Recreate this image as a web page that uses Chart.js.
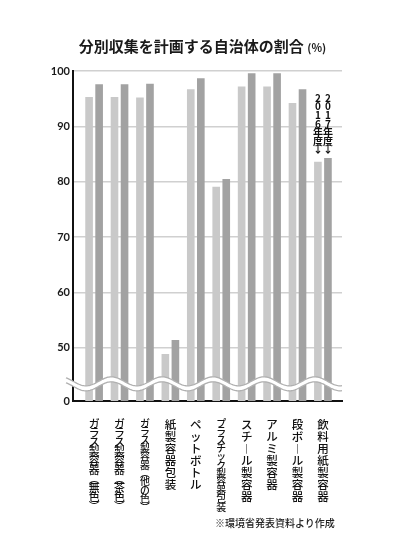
<!DOCTYPE html>
<html>
<head>
<meta charset="utf-8">
<script src="https://cdn.jsdelivr.net/npm/chart.js@4/dist/chart.umd.min.js"></script>
<style>
html, body { margin: 0; padding: 0; background: #fff; }
#wrap { position: relative; width: 400px; height: 550px; }
#title { position: absolute; left: 0; width: 405px; top: 35px; line-height: 20px; text-align: center;
         font: bold 15px 'Noto Sans CJK JP'; color: #1a1a1a; }
#title small { font-size: 11px; font-weight: bold; }
#note { position: absolute; left: 215px; top: 515px; line-height: 12px; font: 500 10px 'Noto Sans CJK JP'; color: #222; }
</style>
</head>
<body>
<div id="wrap">
  <canvas id="chart" width="400" height="550" style="width:400px;height:550px"></canvas>
  <div id="title">分別収集を計画する自治体の割合 <small>(%)</small></div>
  <div id="note">※環境省発表資料より作成</div>
</div>
<script>
var categories = ['ガラス製容器（無色）', 'ガラス製容器（茶色）', 'ガラス製容器（他の色）', '紙製容器包装',
    'ペットボトル', 'プラスチック製容器包装', 'スチール製容器', 'アルミ製容器', '段ボール製容器', '飲料用紙製容器'];
var years = ['2016年度', '2017年度'];
var values2016 = [95.3, 95.3, 95.2, 48.9, 96.7, 79.1, 97.2, 97.2, 94.2, 83.6];
var values2017 = [97.6, 97.6, 97.7, 51.4, 98.7, 80.5, 99.6, 99.6, 96.7, 84.3];
var yTickValues = [50, 60, 70, 80, 90, 100];
var yBreakValue = 40.4;   // bottom of the cut axis, labelled as 0
var yBreakLabel = '0';

// vertical writing: one glyph per line, brackets and long vowel turned
function verticalize(text) {
    var turn = { '（': '︵', '）': '︶', 'ー': '︱' };
    return Array.from(text || '').map(function (c) { return turn[c] || c; });
}

function labelLineHeight(i) {
    var n = categories[i] ? Array.from(categories[i]).length : 0;
    return n ? Math.min(11.9, 92 / n) : 11.9;
}

// the year notes above the last pair of bars
var yearNotes = {
    id: 'yearNotes',
    afterDatasetsDraw: function (chart) {
        var ctx = chart.ctx;
        var last = categories.length - 1;
        var bars = [0, 1].map(function (d) { return chart.getDatasetMeta(d).data[last]; });
        var top = Math.min(bars[0].y, bars[1].y);
        var step = 8.6;
        ctx.save();
        ctx.fillStyle = '#111';
        ctx.font = 'bold 10px "Noto Sans CJK JP"';
        ctx.textAlign = 'center';
        ctx.textBaseline = 'middle';
        bars.forEach(function (bar, d) {
            var chars = Array.from(years[d]).concat('↓');
            var y = top - 4 - chars.length * step + step / 2;
            chars.forEach(function (c, k) {
                ctx.fillText(c, bar.x, y + k * step);
            });
        });
        ctx.restore();
    }
};

// wavy white band that marks the cut in the value axis
var breakWave = {
    id: 'breakWave',
    afterDraw: function (chart) {
        var ctx = chart.ctx, xs = chart.scales.x, ys = chart.scales.y;
        var cy = ys.getPixelForValue(43.5);
        var period = xs.getPixelForValue(2) - xs.getPixelForValue(0);
        var peakX = xs.getPixelForValue(0.68);
        var x0 = chart.chartArea.left - 7, x1 = chart.chartArea.right;
        var amp = 4.5, gap = 5;
        function yAt(x, off) {
            return cy + off - amp * Math.cos(2 * Math.PI * (x - peakX) / period);
        }
        ctx.save();
        ctx.beginPath();
        for (var x = x0; x <= x1; x++) ctx.lineTo(x, yAt(x, -gap / 2));
        for (x = x1; x >= x0; x--) ctx.lineTo(x, yAt(x, gap / 2));
        ctx.closePath();
        ctx.fillStyle = '#fff';
        ctx.fill();
        ctx.strokeStyle = '#b0b0b0';
        ctx.lineWidth = 1.3;
        [-gap / 2, gap / 2].forEach(function (off) {
            ctx.beginPath();
            for (var x = x0; x <= x1; x++) ctx.lineTo(x, yAt(x, off));
            ctx.stroke();
        });
        ctx.restore();
    }
};

var ctx = document.getElementById('chart').getContext('2d');
var chart = new Chart(ctx, {
    type: 'bar',
    data: {
        datasets: [{
            label: years[0],
            backgroundColor: '#c9c9c9',
            data: values2016.map(function (v, i) { return { x: i, y: v }; })
        }, {
            label: years[1],
            backgroundColor: '#a2a2a2',
            data: values2017.map(function (v, i) { return { x: i, y: v }; })
        }]
    },
    plugins: [yearNotes, breakWave],
    options: {
        responsive: false,
        animation: false,
        categoryPercentage: 0.79,
        barPercentage: 0.76,
        layout: { padding: { top: 71, right: 58, left: 0, bottom: 0 } },
        plugins: { legend: { display: false }, tooltip: { enabled: false } },
        scales: {
            x: {
                type: 'linear',
                offset: false,
                min: -0.83,
                max: 9.75,
                afterBuildTicks: function (s) {
                    s.ticks = categories.map(function (c, i) { return { value: i }; });
                },
                afterFit: function (s) { s.height = 149; },
                grid: { display: false, offset: false },
                border: { color: '#111', width: 2 },
                ticks: {
                    autoSkip: false,
                    maxRotation: 0,
                    minRotation: 0,
                    padding: 10,
                    color: '#111',
                    callback: function (v) { return verticalize(categories[v]); },
                    font: function (c) {
                        var lh = labelLineHeight(c.index);
                        return { family: '"Noto Sans CJK JP"', weight: 500, size: Math.min(11.5, lh * 1.18), lineHeight: lh + 'px' };
                    }
                }
            },
            y: {
                min: yBreakValue,
                max: 100,
                afterBuildTicks: function (s) {
                    s.ticks = [yBreakValue].concat(yTickValues).map(function (v) { return { value: v }; });
                },
                afterFit: function (s) { s.width = 73; },
                grid: {
                    drawTicks: false,
                    lineWidth: 1.5,
                    color: function (c) {
                        return c.tick && c.tick.value === yBreakValue ? 'rgba(0,0,0,0)' : '#d0d0d0';
                    }
                },
                border: { color: '#111', width: 2 },
                ticks: {
                    padding: 3,
                    color: '#1a1a1a',
                    font: { family: 'Lato', size: 11, weight: 'bold' },
                    callback: function (v) { return v === yBreakValue ? yBreakLabel : v; }
                }
            }
        }
    }
});
</script>
</body>
</html>
